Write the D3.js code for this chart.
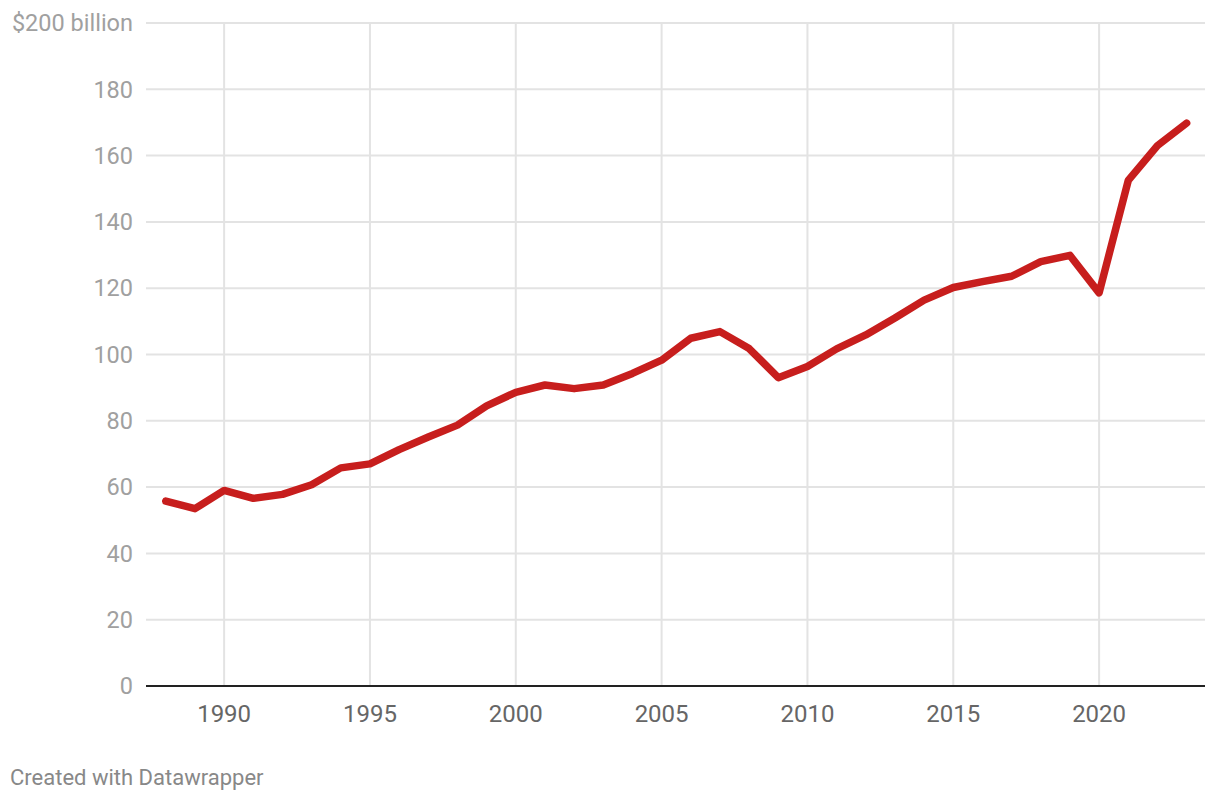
<!DOCTYPE html>
<html><head><meta charset="utf-8">
<script src="https://cdn.jsdelivr.net/npm/d3@7"></script>
<style>
body{margin:0;background:#fff;}
svg text{font-family:Roboto, "Noto Sans", sans-serif;}
</style></head>
<body>
<svg id="chart" width="1220" height="802"></svg>
<script>
const years = [1988,1989,1990,1991,1992,1993,1994,1995,1996,1997,1998,1999,2000,2001,2002,2003,2004,2005,2006,2007,2008,2009,2010,2011,2012,2013,2014,2015,2016,2017,2018,2019,2020,2021,2022,2023];
const values = [55.8,53.5,59.0,56.6,57.8,60.7,65.8,67.0,71.3,75.1,78.7,84.5,88.6,90.8,89.7,90.8,94.3,98.3,104.9,106.9,101.8,93.0,96.4,101.7,105.9,111.0,116.4,120.2,122.0,123.6,128.0,129.9,118.6,152.5,163.0,169.8];
const yTicks = [0,20,40,60,80,100,120,140,160,180,200];
const xTicks = [1990,1995,2000,2005,2010,2015,2020];
const yTopLabel = "$200 billion";
const footer = "Created with Datawrapper";

const svg = d3.select("#chart");
const left = 146, right = 1205;
const x = d3.scaleLinear().domain([1988,2023]).range([165.8,1186.6]);
const y = d3.scaleLinear().domain([0,200]).range([686,23]);

// vertical grid
svg.append("g").selectAll("line").data(xTicks).join("line")
  .attr("x1",d=>x(d)).attr("x2",d=>x(d)).attr("y1",y(200)).attr("y2",y(0))
  .attr("stroke","#e3e3e3").attr("stroke-width",2);
// horizontal grid
svg.append("g").selectAll("line").data(yTicks.filter(d=>d>0)).join("line")
  .attr("x1",left).attr("x2",right).attr("y1",d=>y(d)).attr("y2",d=>y(d))
  .attr("stroke","#e3e3e3").attr("stroke-width",2);
// y labels
svg.append("g").selectAll("text").data(yTicks).join("text")
  .attr("x",133).attr("y",d=>y(d)).attr("dy","0.35em").attr("text-anchor","end")
  .attr("font-size",23.5).attr("fill","#a0a0a0")
  .text(d=>d===200?yTopLabel:d);
// x labels
svg.append("g").selectAll("text").data(xTicks).join("text")
  .attr("x",d=>x(d)).attr("y",721.5).attr("text-anchor","middle")
  .attr("font-size",24).attr("fill","#666")
  .text(d=>d);
// baseline
svg.append("line").attr("x1",left).attr("x2",right).attr("y1",y(0)).attr("y2",y(0))
  .attr("stroke","#222").attr("stroke-width",2);
// line
const line = d3.line().x((d,i)=>x(years[i])).y(d=>y(d));
svg.append("path").datum(values).attr("d",line)
  .attr("fill","none").attr("stroke","#c71e1d").attr("stroke-width",7.5)
  .attr("stroke-linejoin","round").attr("stroke-linecap","round");
// footer
svg.append("text").attr("x",10).attr("y",785).attr("font-size",22).attr("fill","#888").text(footer);
</script>
</body></html>
